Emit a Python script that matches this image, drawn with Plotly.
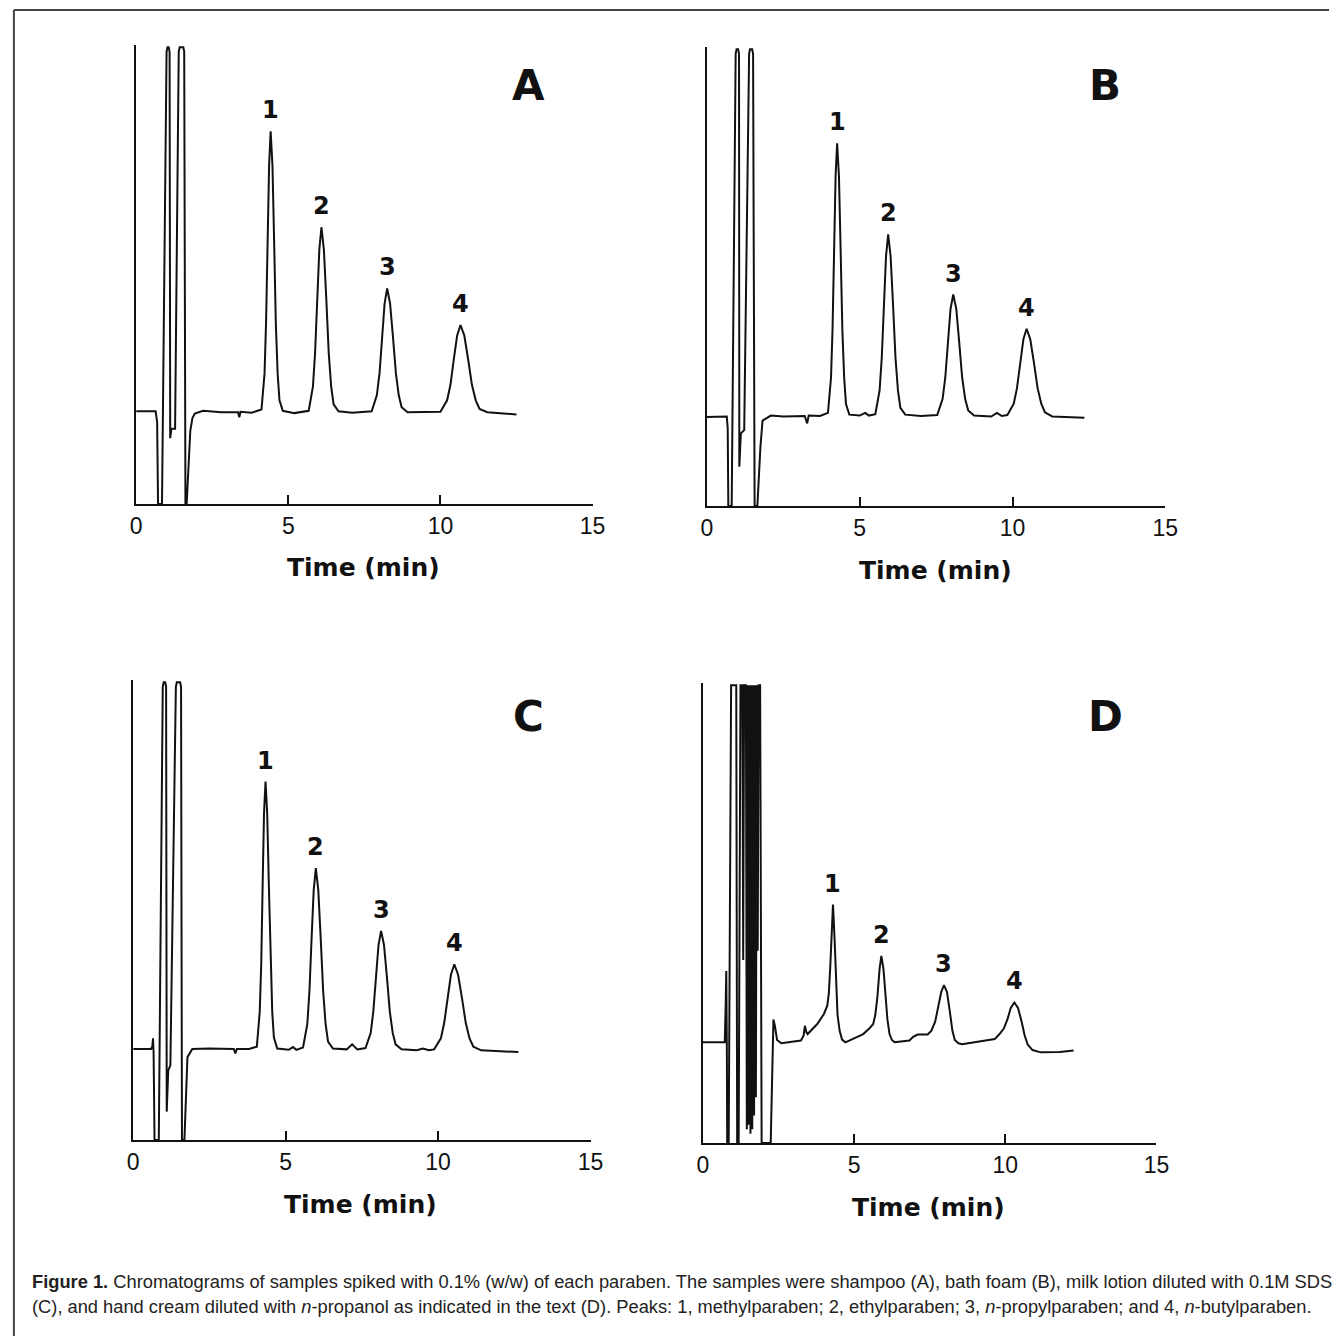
import plotly.graph_objects as go

W, H = 1342, 1340

# ---------------- data (time in min, detector signal in % of panel height) ----------------
trace_a = [
    (0.00, 20.3), (0.64, 20.3), (0.69, 18.0), (0.72, 0.0), (0.85, 0.0), (1.00, 99), (1.03, 100), (1.07, 100),
    (1.10, 99), (1.12, 14.4), (1.16, 16.5), (1.28, 16.5), (1.40, 99), (1.43, 100), (1.55, 100), (1.58, 99),
    (1.62, 0.0), (1.66, 0.0), (1.72, 8.0), (1.78, 16.0), (1.85, 18.8), (1.93, 19.8), (2.20, 20.4), (2.80, 20.1),
    (3.35, 20.1), (3.39, 19.0), (3.43, 20.2), (3.80, 20.0),
    (4.12, 20.7), (4.22, 28.6), (4.27, 39.7), (4.32, 57.6), (4.37, 74.2), (4.42, 81.6),
    (4.48, 74.2), (4.535, 57.6), (4.59, 39.7), (4.65, 28.6), (4.71, 22.7), (4.82, 20.4), (5.20, 19.9),
    (5.67, 20.4), (5.81, 25.7), (5.88, 33.0), (5.95, 44.8), (6.02, 55.7), (6.09, 60.6),
    (6.17, 55.7), (6.25, 44.8), (6.33, 33.0), (6.41, 25.7), (6.49, 21.8), (6.65, 20.3), (7.10, 20.0),
    (7.74, 20.3), (7.91, 23.8), (8.00, 28.7), (8.08, 36.6), (8.165, 43.9), (8.25, 47.2),
    (8.345, 43.9), (8.44, 36.6), (8.535, 28.7), (8.63, 23.8), (8.725, 21.2), (8.92, 20.1), (9.60, 20.1),
    (10.00, 20.2), (10.22, 22.7), (10.33, 26.1), (10.44, 31.7), (10.55, 36.9), (10.66, 39.2),
    (10.785, 36.9), (10.91, 31.7), (11.035, 26.1), (11.16, 22.7), (11.285, 20.8), (11.54, 20.1),
    (12.00, 19.8), (12.50, 19.6),
]

trace_b = [
    (0.00, 19.5), (0.65, 19.6), (0.68, 17.0), (0.70, 0.0), (0.81, 0.0), (0.94, 99), (0.97, 100), (1.02, 100),
    (1.05, 99), (1.06, 8.6), (1.11, 15.9), (1.22, 16.6), (1.38, 99), (1.41, 100), (1.48, 100), (1.51, 99),
    (1.56, 0.0), (1.65, 0.0), (1.75, 12.9), (1.82, 18.7), (2.09, 19.8), (2.50, 19.6), (3.20, 19.7),
    (3.28, 18.1), (3.33, 19.8), (3.70, 19.7),
    (3.96, 20.4), (4.06, 28.1), (4.11, 38.8), (4.16, 56.1), (4.21, 72.2), (4.26, 79.4),
    (4.32, 72.2), (4.375, 56.1), (4.43, 38.8), (4.49, 28.1), (4.55, 22.3), (4.66, 20.0),
    (5.00, 19.8), (5.18, 20.4), (5.30, 19.8),
    (5.51, 20.1), (5.65, 25.3), (5.72, 32.4), (5.79, 44.0), (5.86, 54.7), (5.93, 59.5),
    (6.01, 54.7), (6.09, 44.0), (6.17, 32.4), (6.25, 25.3), (6.33, 21.5), (6.49, 20.0), (7.00, 19.7),
    (7.535, 19.9), (7.71, 23.4), (7.80, 28.2), (7.885, 35.9), (7.97, 43.1), (8.06, 46.3),
    (8.16, 43.1), (8.255, 35.9), (8.35, 28.2), (8.45, 23.4), (8.55, 20.9), (8.74, 19.8),
    (9.30, 19.6), (9.49, 20.4), (9.65, 19.7),
    (9.83, 19.9), (10.04, 22.4), (10.145, 25.8), (10.25, 31.4), (10.355, 36.5), (10.46, 38.8),
    (10.58, 36.5), (10.70, 31.4), (10.82, 25.8), (10.94, 22.4), (11.06, 20.5), (11.30, 19.6),
    (12.35, 19.3),
]

trace_c = [
    (0.00, 19.9), (0.59, 19.9), (0.63, 20.5), (0.65, 22.2), (0.67, 19.0), (0.70, 0.0), (0.84, 0.0),
    (0.97, 99), (1.00, 100), (1.05, 100), (1.08, 99), (1.10, 6.2), (1.15, 15.2), (1.22, 16.3), (1.40, 99),
    (1.43, 100), (1.54, 100), (1.57, 99), (1.60, 0.0), (1.68, 0.0), (1.78, 18.1), (1.94, 19.9), (2.50, 20.0),
    (3.30, 19.9), (3.35, 18.9), (3.40, 19.9), (3.80, 19.9),
    (4.055, 20.4), (4.15, 28.0), (4.20, 38.5), (4.245, 55.5), (4.29, 71.3), (4.34, 78.3),
    (4.395, 71.3), (4.45, 55.5), (4.505, 38.5), (4.56, 28.0), (4.615, 22.4), (4.725, 20.0),
    (5.10, 19.7), (5.24, 20.3), (5.35, 19.7),
    (5.57, 20.2), (5.71, 25.3), (5.78, 32.5), (5.85, 44.0), (5.92, 54.6), (5.99, 59.4),
    (6.07, 54.6), (6.15, 44.0), (6.23, 32.5), (6.31, 25.3), (6.39, 21.5), (6.55, 20.0),
    (7.00, 19.8), (7.18, 20.9), (7.35, 19.8),
    (7.62, 20.1), (7.79, 23.4), (7.875, 28.1), (7.96, 35.7), (8.045, 42.6), (8.13, 45.7),
    (8.225, 42.6), (8.32, 35.7), (8.415, 28.1), (8.51, 23.4), (8.605, 20.9), (8.80, 19.8),
    (9.30, 19.6), (9.50, 20.0), (9.70, 19.6),
    (9.87, 19.8), (10.09, 22.2), (10.20, 25.6), (10.31, 31.1), (10.42, 36.1), (10.53, 38.4),
    (10.655, 36.1), (10.78, 31.1), (10.905, 25.6), (11.03, 22.2), (11.155, 20.4), (11.41, 19.6),
    (12.63, 19.2),
]

trace_d = [
    (0.00, 22.0), (0.72, 22.0), (0.75, 30.0), (0.77, 37.6), (0.79, 20.0), (0.80, 0.0), (0.85, 0.0),
    (0.93, 100), (1.10, 100), (1.13, 0.0), (1.18, 0.0), (1.24, 100), (1.30, 100), (1.33, 40), (1.36, 100),
    (1.42, 100), (1.45, 3), (1.48, 100), (1.51, 4), (1.54, 100), (1.57, 2), (1.60, 100), (1.63, 3),
    (1.66, 100), (1.69, 6), (1.72, 100), (1.75, 10), (1.78, 100), (1.81, 42), (1.84, 100), (1.89, 100),
    (1.94, 0.0), (2.24, 0.0), (2.33, 27.0), (2.38, 25.5),
    (2.45, 22.5), (2.59, 21.8), (3.00, 22.1), (3.24, 22.4), (3.33, 23.5), (3.37, 25.6), (3.42, 24.2),
    (3.46, 23.8), (3.78, 26.0), (4.00, 28.2), (4.11, 30.0),
    (4.16, 32.5), (4.21, 38.5), (4.255, 47.5), (4.30, 52.1), (4.35, 45.0), (4.40, 35.0), (4.45, 28.0),
    (4.52, 24.5), (4.60, 22.6), (4.71, 22.0), (5.00, 22.8), (5.30, 23.8), (5.50, 25.0), (5.63, 26.0),
    (5.70, 28.0), (5.77, 32.0), (5.84, 38.0), (5.90, 40.9), (5.97, 38.0), (6.04, 32.0), (6.10, 27.0),
    (6.17, 23.8), (6.25, 22.5), (6.34, 22.0), (6.83, 22.4), (6.95, 23.2), (7.10, 23.7), (7.43, 23.7),
    (7.55, 24.5), (7.68, 26.5), (7.78, 29.5), (7.88, 33.0), (7.97, 34.5), (8.07, 33.0), (8.17, 28.5),
    (8.25, 24.5), (8.33, 22.5), (8.45, 21.8), (8.57, 21.6), (9.20, 22.2), (9.65, 22.7), (9.81, 23.8),
    (9.95, 25.0), (10.07, 27.0), (10.18, 29.5), (10.30, 30.7), (10.42, 29.5), (10.54, 26.5),
    (10.64, 23.5), (10.74, 21.5), (10.90, 20.3), (11.17, 19.8), (11.80, 19.9), (12.26, 20.2),
]

peak_labels = ["1", "2", "3", "4"]
peaks_a_time = [4.42, 6.09, 8.25, 10.66]
peaks_a_height = [81.6, 60.6, 47.2, 39.2]
peaks_b_time = [4.26, 5.93, 8.06, 10.46]
peaks_b_height = [79.4, 59.5, 46.3, 38.8]
peaks_c_time = [4.34, 5.99, 8.13, 10.53]
peaks_c_height = [78.3, 59.4, 45.7, 38.4]
peaks_d_time = [4.30, 5.90, 7.97, 10.30]
peaks_d_height = [52.1, 40.9, 34.5, 30.7]

panel_letters = ["A", "B", "C", "D"]
x_ticks = [0, 5, 10, 15]
x_tick_text = ["0", "5", "10", "15"]
x_title = "Time (min)"

caption_line1 = ("<b>Figure 1.</b> Chromatograms of samples spiked with 0.1% (w/w) of each paraben. "
                 "The samples were shampoo (A), bath foam (B), milk lotion diluted with 0.1M SDS")
caption_line2 = ("(C), and hand cream diluted with <i>n</i>-propanol as indicated in the text (D). "
                 "Peaks: 1, methylparaben; 2, ethylparaben; 3, <i>n</i>-propylparaben; and 4, <i>n</i>-butylparaben.")

# ---------------- layout geometry (pixels) ----------------
panels = [
    dict(pts=trace_a, pt=peaks_a_time, ph=peaks_a_height, xd=(132, 595), yd=(45, 504), letter=(530, 85)),
    dict(pts=trace_b, pt=peaks_b_time, ph=peaks_b_height, xd=(711, 1176), yd=(47, 506), letter=(1115, 85)),
    dict(pts=trace_c, pt=peaks_c_time, ph=peaks_c_height, xd=(129, 593), yd=(680, 1140), letter=(530, 716)),
    dict(pts=trace_d, pt=peaks_d_time, ph=peaks_d_height, xd=(707, 1167), yd=(683, 1143), letter=(1115, 716)),
]

def px(x):
    return x / W

def py(y):
    return 1 - y / H

BOLD = "DejaVu Sans"
fig = go.Figure()
annotations = []
layout_axes = {}

for i, p in enumerate(panels):
    n = "" if i == 0 else str(i + 1)
    t, s = zip(*p["pts"])
    fig.add_trace(go.Scatter(
        x=list(t), y=list(s), mode="lines",
        line=dict(color="#111111", width=2),
        xaxis="x" + n, yaxis="y" + n, showlegend=False, hoverinfo="skip",
    ))
    layout_axes["xaxis" + n] = dict(
        domain=[px(p["xd"][0]), px(p["xd"][1])], range=[0, 15], anchor="y" + n,
        showline=True, linecolor="#111111", linewidth=2, mirror=False,
        ticks="inside", ticklen=9, tickwidth=2, tickcolor="#111111",
        tickvals=x_ticks, ticktext=x_tick_text,
        tickfont=dict(family="Liberation Sans", size=23, color="#111111"),
        showgrid=False, zeroline=False, fixedrange=True,
    )
    layout_axes["yaxis" + n] = dict(
        domain=[py(p["yd"][1]), py(p["yd"][0])], range=[0, 100.5], anchor="x" + n,
        showline=True, linecolor="#111111", linewidth=2,
        showticklabels=False, ticks="", showgrid=False, zeroline=False, fixedrange=True,
    )
    for lab, tt, hh in zip(peak_labels, p["pt"], p["ph"]):
        annotations.append(dict(
            x=tt, y=hh, xref="x" + n, yref="y" + n, text="<b>%s</b>" % lab, showarrow=False,
            xanchor="center", yanchor="bottom", yshift=5,
            font=dict(family=BOLD, size=24, color="#111111"),
        ))
    lx, ly = p["letter"]
    annotations.append(dict(
        x=px(lx), y=py(ly), xref="paper", yref="paper", text="<b>%s</b>" % panel_letters[i],
        showarrow=False, xanchor="center", yanchor="middle",
        font=dict(family=BOLD, size=42, color="#111111"),
    ))
    cx = (p["xd"][0] + p["xd"][1]) / 2 - 1
    annotations.append(dict(
        x=px(cx), y=py(p["yd"][1] + 64), xref="paper", yref="paper", text="<b>%s</b>" % x_title,
        showarrow=False, xanchor="center", yanchor="middle",
        font=dict(family=BOLD, size=25, color="#111111"),
    ))

annotations.append(dict(
    x=px(24), y=py(1281), xref="paper", yref="paper", text=caption_line1, showarrow=False,
    xanchor="left", yanchor="middle", align="left",
    font=dict(family="Liberation Sans", size=18.3, color="#222222"),
))
annotations.append(dict(
    x=px(24), y=py(1306), xref="paper", yref="paper", text=caption_line2, showarrow=False,
    xanchor="left", yanchor="middle", align="left",
    font=dict(family="Liberation Sans", size=18.3, color="#222222"),
))

shapes = [
    dict(type="line", xref="paper", yref="paper", x0=px(8), y0=py(10), x1=1, y1=py(10),
         line=dict(color="#444444", width=2)),
    dict(type="line", xref="paper", yref="paper", x0=px(8), y0=py(10), x1=px(8), y1=py(1336),
         line=dict(color="#444444", width=2)),
]

fig.update_layout(
    width=W, height=H, margin=dict(l=0, r=0, t=0, b=0),
    paper_bgcolor="white", plot_bgcolor="white",
    annotations=annotations, shapes=shapes, showlegend=False,
    **layout_axes,
)

fig.write_html(
    "out.html",
    config={"displayModeBar": False},
    post_script="document.body.style.margin='0';document.body.style.overflow='hidden';",
)
